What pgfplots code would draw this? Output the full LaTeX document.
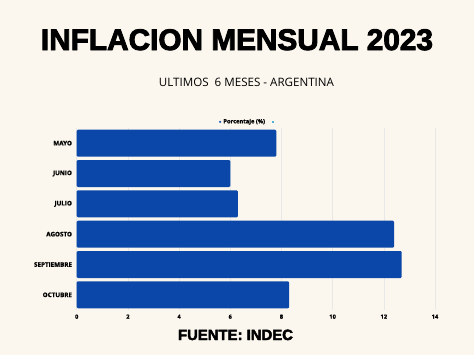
\documentclass[border=0pt]{standalone}
\usepackage{pgfplots}
\pgfplotsset{compat=1.18}
\usepackage{fontspec}
\setmainfont{Open Sans}
\newfontfamily\heavy{Liberation Sans Bold}[FakeBold=3]
\newfontfamily\lblfont{Open Sans}[BoldFeatures={FakeBold=1}]
\definecolor{bgcol}{HTML}{FBF7EE}
\definecolor{barcol}{HTML}{0A47A8}
\definecolor{lblue}{HTML}{4FB3D9}
\begin{document}
\begin{tikzpicture}[x=1bp,y=1bp]
\fill[bgcol] (0,0) rectangle (474,355);
\path[use as bounding box] (0,0) rectangle (474,355);
\node[anchor=base,inner sep=0] at (237,305) {\resizebox{392bp}{!}{\heavy INFLACION MENSUAL 2023}};
\node[anchor=base,inner sep=0] at (246.5,269) {\resizebox{175bp}{!}{\fontsize{10.8}{12}\selectfont ULTIMOS\ \ 6 MESES - ARGENTINA}};
\node[anchor=base,inner sep=0] at (235.5,15) {\resizebox{115bp}{!}{\heavy FUENTE: INDEC}};
\begin{axis}[
  at={(76.7bp,45bp)}, anchor=south west,
  scale only axis, width=358.3bp, height=182bp,
  xbar, bar width=27bp,
  xmin=0, xmax=14, ymin=-0.5, ymax=5.5,
  y dir=reverse,
  ytick={0,1,2,3,4,5},
  yticklabels={MAYO,JUNIO,JULIO,AGOSTO,SEPTIEMBRE,OCTUBRE},
  xtick={0,2,4,6,8,10,12,14},
  axis line style={draw=none},
  major tick length=0pt,
  xmajorgrids, grid style={black!9, line width=0.5bp},
  /pgf/number format/assume math mode=true,
  xticklabel style={font=\lblfont\bfseries\fontsize{5.8}{6}\selectfont, yshift=-1bp},
  yticklabel style={font=\lblfont\bfseries\fontsize{6.3}{7}\selectfont, xshift=-1.2bp},
  legend style={at={(0.48,1.0)}, anchor=south, draw=none, fill=none,
    legend columns=2, font=\lblfont\bfseries\fontsize{5.8}{6}\selectfont,
    /tikz/every even column/.append style={column sep=5bp},
    inner sep=1bp},
  legend image code/.code={\fill[#1] (0bp,-1.2bp) rectangle (2.4bp,1.2bp);},
]
\addplot[fill=barcol, draw=none, rounded corners=1.2bp] coordinates {
 (7.8,0) (6.0,1) (6.3,2) (12.4,3) (12.7,4) (8.3,5)};
\addlegendentry{Porcentaje (\%)}
\addlegendimage{fill=lblue, draw=none}
\addlegendentry{}
\end{axis}
\end{tikzpicture}
\end{document}
